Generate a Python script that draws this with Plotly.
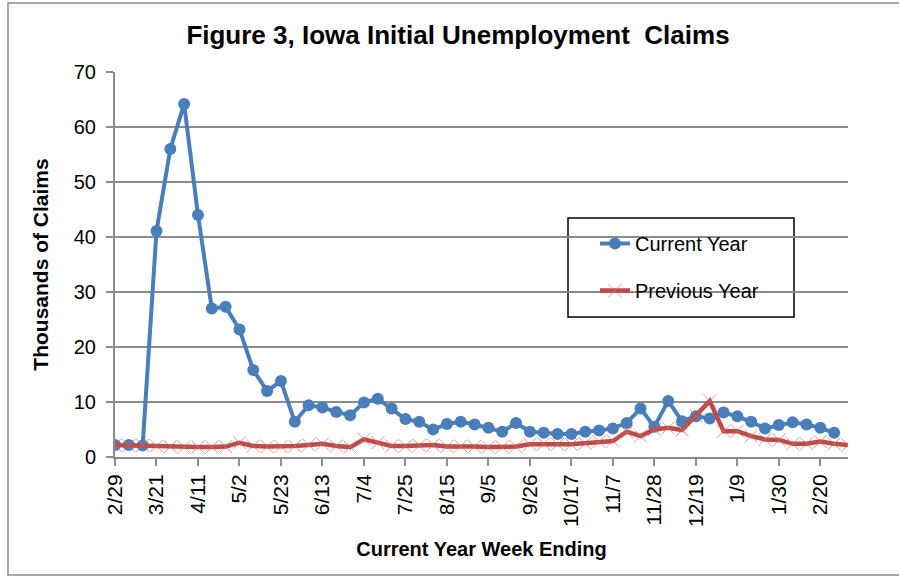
import plotly.graph_objects as go

# ---- data ----
week_index = list(range(54))
tick_positions = [0, 3, 6, 9, 12, 15, 18, 21, 24, 27, 30, 33, 36, 39, 42, 45, 48, 51]
tick_labels = ["2/29", "3/21", "4/11", "5/2", "5/23", "6/13", "7/4", "7/25", "8/15",
               "9/5", "9/26", "10/17", "11/7", "11/28", "12/19", "1/9", "1/30", "2/20"]

current_year = [2.2, 2.2, 2.1, 41.1, 56.0, 64.2, 44.0, 27.0, 27.3, 23.2,
                15.8, 12.0, 13.8, 6.4, 9.4, 9.0, 8.2, 7.6, 9.9, 10.6,
                8.8, 6.9, 6.4, 5.0, 6.0, 6.4, 5.9, 5.3, 4.6, 6.2,
                4.6, 4.4, 4.2, 4.2, 4.6, 4.8, 5.2, 6.2, 8.8, 5.5,
                10.2, 6.5, 7.4, 7.0, 8.1, 7.4, 6.4, 5.2, 5.8, 6.3,
                5.9, 5.3, 4.4]

previous_year = [2.2, 2.1, 2.1, 2.0, 1.9, 1.8, 1.8, 1.8, 1.9, 2.6,
                 2.0, 1.9, 1.9, 2.0, 2.2, 2.4, 2.0, 1.8, 3.2, 2.6,
                 2.0, 2.0, 2.1, 2.2, 1.9, 2.0, 1.9, 1.8, 1.8, 1.9,
                 2.3, 2.4, 2.3, 2.3, 2.5, 2.8, 2.9, 4.6, 3.8, 5.0,
                 5.3, 4.9, 7.5, 10.2, 4.7, 4.7, 3.8, 3.2, 3.1, 2.4,
                 2.4, 2.8, 2.4, 2.2]

series_names = ["Current Year", "Previous Year"]

# ---- styles ----
FONT = "Liberation Sans, Arial, sans-serif"
BLUE = "#4A7EBB"
RED = "#BE4B48"
GRID = "#8C8C8C"

fig = go.Figure()
fig.add_trace(go.Scatter(
    x=week_index[:len(current_year)], y=current_year, name=series_names[0],
    mode="lines+markers", legendgroup="a",
    line=dict(color=BLUE, width=4),
    marker=dict(symbol="circle", size=12, color=BLUE),
))
fig.add_trace(go.Scatter(
    x=week_index[:len(previous_year)], y=previous_year, name=series_names[1],
    mode="lines+markers", legendgroup="b",
    line=dict(color=RED, width=4.5),
    marker=dict(symbol="x-thin", size=13,
                line=dict(color="rgba(205,110,108,0.75)", width=1)),
))

L, R, T, B = 115, 51, 72, 120
W, H = 899, 577
pw, ph = W - L - R, H - T - B

def px_x(x):
    return (x - L) / pw

def px_y(y):
    return (H - B - y) / ph

fig.update_layout(
    width=W, height=H,
    margin=dict(l=L, r=R, t=T, b=B, autoexpand=False),
    paper_bgcolor="white", plot_bgcolor="white",
    font=dict(family=FONT, color="black"),
    title=dict(text="<b>Figure 3, Iowa Initial Unemployment  Claims</b>",
               x=(182 + 734) / 2 / W, xanchor="center", y=1 - 35 / H, yanchor="middle",
               font=dict(size=26, family=FONT, color="black")),
    showlegend=True,
    legend=dict(x=px_x(595), y=px_y(224), xanchor="left", yanchor="top",
                bgcolor="rgba(0,0,0,0)", borderwidth=0,
                traceorder="grouped", tracegroupgap=18,
                font=dict(size=20, family=FONT, color="black")),
    xaxis=dict(range=[0, 53], tickmode="array", tickvals=tick_positions, ticktext=tick_labels,
               tickangle=-90, showgrid=False, zeroline=False, automargin=False,
               showline=True, linecolor=GRID, linewidth=2,
               ticks="outside", ticklen=7, tickwidth=2, tickcolor=GRID,
               tickfont=dict(size=21, family=FONT, color="black"),
               title=dict(text="<b>Current Year Week Ending</b>", standoff=16,
                          font=dict(size=20, family=FONT, color="black"))),
    yaxis=dict(range=[0, 70], dtick=10, showgrid=True, gridcolor=GRID, gridwidth=2,
               zeroline=False, showline=True, linecolor=GRID, linewidth=2, automargin=False,
               ticks="outside", ticklen=7, tickwidth=2, tickcolor=GRID,
               ticklabelstandoff=6,
               tickfont=dict(size=20, family=FONT, color="black"),
               title=dict(text="<b>Thousands of Claims</b>", standoff=19,
                          font=dict(size=21, family=FONT, color="black"))),
    shapes=[
        dict(type="rect", xref="paper", yref="paper",
             x0=px_x(568), x1=px_x(794), y0=px_y(317), y1=px_y(218),
             line=dict(color="black", width=1.5), fillcolor="rgba(0,0,0,0)", layer="below"),
        dict(type="rect", xref="paper", yref="paper",
             x0=px_x(8), x1=px_x(905), y0=px_y(575), y1=px_y(3),
             line=dict(color="#8C8C8C", width=1.5), fillcolor="rgba(0,0,0,0)", layer="below"),
    ],
)

fig.write_html("out.html", config={"displayModeBar": False},
               post_script="document.body.style.margin='0px';document.body.style.overflow='hidden';")
